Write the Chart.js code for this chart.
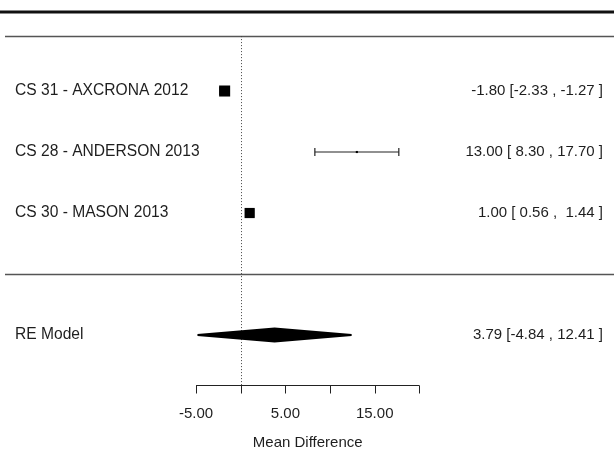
<!DOCTYPE html>
<html>
<head>
<meta charset="utf-8">
<script src="https://cdn.jsdelivr.net/npm/chart.js@4/dist/chart.umd.min.js"></script>
<style>
    html, body { margin: 0; padding: 0; background: #fff; }
    #wrap { width: 614px; height: 450px; position: relative; }
</style>
</head>
<body>
<div id="wrap"><canvas id="forest"></canvas></div>
<script>
    // Estudios individuales
    var studies = ['CS 31 - AXCRONA 2012', 'CS 28 - ANDERSON 2013', 'CS 30 - MASON 2013'];
    var estimates = [-1.80, 13.00, 1.00];
    var ciLower = [-2.33, 8.30, 0.56];
    var ciUpper = [-1.27, 17.70, 1.44];

    // Modelo de efectos aleatorios
    var summaryLabel = 'RE Model';
    var summaryEstimate = 3.79;
    var summaryLower = -4.84;
    var summaryUpper = 12.41;

    // Eje X
    var xTicks = [-5, 0, 5, 10, 15, 20];
    var xTickLabels = ['-5.00', '', '5.00', '', '15.00', ''];
    var xTitle = 'Mean Difference';

    var FONT = '"Liberation Sans", Arial, sans-serif';
    var TEXT = '#1e1e1e';

    // filas: estudios de arriba hacia abajo, resumen dos filas debajo
    var k = studies.length;
    var rows = studies.map(function(s, i) { return k - i + 2; });
    var summaryRow = 1;
    var separatorRow = 2;
    var headerRow = 5.9;
    var topRuleRow = 6.295;
    var axisRow = 0.18;

    function fmt(v) { return v.toFixed(2); }
    function pad(s, n) { while (s.length < n) { s = ' ' + s; } return s; }
    function ciText(est, lo, hi) {
        return fmt(est) + ' [' + pad(fmt(lo), 5) + ' , ' + pad(fmt(hi), 5) + ' ]';
    }

    var datasets = [];

    // Intervalos de confianza
    studies.forEach(function(s, i) {
        datasets.push({
            type: 'line',
            order: 3,
            data: [{ x: ciLower[i], y: rows[i] }, { x: ciUpper[i], y: rows[i] }],
            borderColor: '#222',
            borderWidth: 1.2,
            pointStyle: 'line',
            rotation: 90,
            pointRadius: 4,
            pointBorderColor: '#222',
            pointBorderWidth: 1.2,
        });
    });

    // Estimaciones (cuadrados)
    datasets.push({
        type: 'scatter',
        order: 1,
        data: estimates.map(function(v, i) { return { x: v, y: rows[i] }; }),
        pointStyle: 'rect',
        pointRadius: [7.8, 1.5, 7.2],
        pointBackgroundColor: '#000',
        pointBorderColor: '#000',
        pointBorderWidth: 0,
    });

    // Diamante del modelo RE
    var dh = 0.105;
    datasets.push({
        type: 'line',
        order: 1,
        data: [
            { x: summaryLower, y: summaryRow },
            { x: summaryEstimate, y: summaryRow + dh },
            { x: summaryUpper, y: summaryRow },
            { x: summaryEstimate, y: summaryRow - dh },
            { x: summaryLower, y: summaryRow },
        ],
        borderColor: '#000',
        borderWidth: 2,
        backgroundColor: '#000',
        fill: 'shape',
        pointRadius: 0,
        tension: 0,
    });

    var forestDecor = {
        id: 'forestDecor',
        beforeDatasetsDraw: function(chart) {
            var c = chart.ctx, xs = chart.scales.x, ys = chart.scales.y;
            var area = chart.chartArea;
            c.save();

            // línea superior gruesa
            c.strokeStyle = '#111';
            c.lineWidth = 3;
            c.beginPath();
            c.moveTo(area.left, ys.getPixelForValue(topRuleRow));
            c.lineTo(area.right, ys.getPixelForValue(topRuleRow));
            c.stroke();

            // cabecera y separador
            c.strokeStyle = '#555';
            c.lineWidth = 1.5;
            [headerRow, separatorRow].forEach(function(r) {
                var y = Math.round(ys.getPixelForValue(r)) + 0.5;
                c.beginPath();
                c.moveTo(area.left + 5, y);
                c.lineTo(area.right, y);
                c.stroke();
            });

            // línea de referencia en 0
            var x0 = Math.round(xs.getPixelForValue(0)) + 0.5;
            c.strokeStyle = '#444';
            c.lineWidth = 1;
            c.setLineDash([1, 2]);
            c.beginPath();
            c.moveTo(x0, ys.getPixelForValue(headerRow));
            c.lineTo(x0, ys.getPixelForValue(axisRow));
            c.stroke();
            c.restore();
        },
        afterDraw: function(chart) {
            var c = chart.ctx, xs = chart.scales.x, ys = chart.scales.y;
            c.save();
            c.fillStyle = TEXT;
            c.textBaseline = 'middle';

            // etiquetas izquierda y derecha
            studies.forEach(function(s, i) {
                var y = ys.getPixelForValue(rows[i]);
                c.font = '15.6px ' + FONT;
                c.textAlign = 'left';
                c.fillText(s, 15, y);
                c.font = '15px ' + FONT;
                c.textAlign = 'right';
                c.fillText(ciText(estimates[i], ciLower[i], ciUpper[i]), 603, y);
            });
            var ySum = ys.getPixelForValue(summaryRow);
            c.font = '15.6px ' + FONT;
            c.textAlign = 'left';
            c.fillText(summaryLabel, 15, ySum);
            c.font = '15px ' + FONT;
            c.textAlign = 'right';
            c.fillText(ciText(summaryEstimate, summaryLower, summaryUpper), 603, ySum);

            // eje X
            var ya = Math.round(ys.getPixelForValue(axisRow)) + 0.5;
            var xa = xs.getPixelForValue(xTicks[0]);
            var xb = xs.getPixelForValue(xTicks[xTicks.length - 1]);
            c.strokeStyle = '#222';
            c.lineWidth = 1;
            c.beginPath();
            c.moveTo(xa, ya);
            c.lineTo(xb, ya);
            xTicks.forEach(function(t) {
                var x = Math.round(xs.getPixelForValue(t)) + 0.5;
                c.moveTo(x, ya);
                c.lineTo(x, ya + 8);
            });
            c.stroke();

            c.textAlign = 'center';
            xTicks.forEach(function(t, i) {
                if (xTickLabels[i]) {
                    c.fillText(xTickLabels[i], xs.getPixelForValue(t), ya + 28);
                }
            });
            c.fillText(xTitle, (xa + xb) / 2, ya + 57);
            c.restore();
        },
    };

    new Chart(document.getElementById('forest'), {
        type: 'scatter',
        data: { datasets: datasets },
        options: {
            responsive: true,
            maintainAspectRatio: false,
            animation: false,
            layout: { padding: 0, autoPadding: false },
            plugins: {
                legend: { display: false },
                tooltip: { enabled: false },
            },
            scales: {
                x: { type: 'linear', display: false, min: -26.95, max: 41.79 },
                y: { type: 'linear', display: false, min: -0.885, max: 6.492 },
            },
        },
        plugins: [forestDecor],
    });
</script>
</body>
</html>
